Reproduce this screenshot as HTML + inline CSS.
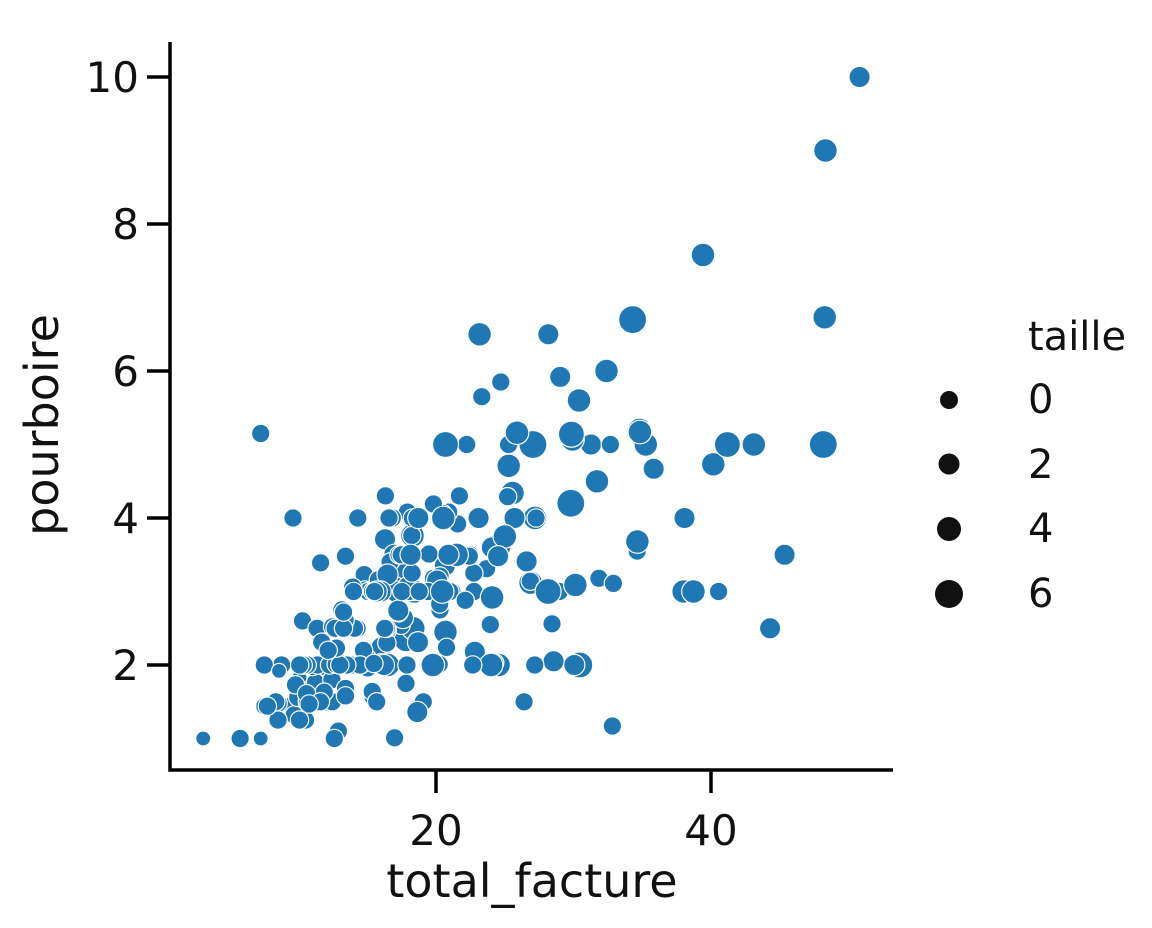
<!DOCTYPE html>
<html><head><meta charset="utf-8"><style>
html,body{margin:0;padding:0;background:#fff;}
svg{display:block;font-family:"DejaVu Sans","Liberation Sans",sans-serif;}
</style></head><body>
<svg id="s" width="1152" height="928" viewBox="0 0 1152 928" xmlns="http://www.w3.org/2000/svg">
<rect width="1152" height="928" fill="#fff"/>
<g id="pts"></g>
<g stroke="#000" stroke-width="3.5" fill="none">
<path d="M170 42 V770 H893"/>
<path d="M147 665 H170 M147 518 H170 M147 371 H170 M147 224 H170 M147 77 H170"/>
<path d="M436 770 V793 M711 770 V793"/>
</g>
<g font-size="42" fill="#111" text-anchor="end">
<text x="139" y="680">2</text>
<text x="139" y="533">4</text>
<text x="139" y="386">6</text>
<text x="139" y="239">8</text>
<text x="139" y="92">10</text>
</g>
<g font-size="42" fill="#111" text-anchor="middle">
<text x="436" y="845">20</text>
<text x="711" y="845">40</text>
<text x="532" y="897" font-size="46">total_facture</text>
<text transform="translate(58,425) rotate(-90)" font-size="46">pourboire</text>
</g>
<g font-size="40" fill="#111">
<text x="1028" y="350">taille</text>
<text x="1028" y="413">0</text>
<text x="1028" y="478">2</text>
<text x="1028" y="542">4</text>
<text x="1028" y="607">6</text>
</g>
<g fill="#111">
<circle cx="949" cy="400" r="9"/>
<circle cx="949" cy="464" r="10.5"/>
<circle cx="949" cy="529" r="12"/>
<circle cx="949" cy="594" r="14"/>
</g>
</svg>
<script>
var d="16.99 1.01 2,10.34 1.66 3,21.01 3.5 3,23.68 3.31 2,24.59 3.61 4,25.29 4.71 4,8.77 2 2,26.88 3.12 4,15.04 1.96 2,14.78 3.23 2,10.27 1.71 2,35.26 5 4,15.42 1.57 2,18.43 3 4,14.83 3.02 2,21.58 3.92 2,10.33 1.67 3,16.29 3.71 3,16.97 3.5 3,20.65 3.35 3,17.92 4.08 2,20.29 2.75 2,15.77 2.23 2,39.42 7.58 4,19.82 3.18 2,17.81 2.34 4,13.37 2 2,12.69 2 2,21.7 4.3 2,19.65 3 2,9.55 1.45 2,18.35 2.5 4,15.06 3 2,20.69 2.45 4,17.78 3.27 2,24.06 3.6 3,16.31 2 3,16.93 3.07 3,18.69 2.31 3,31.27 5 3,16.04 2.24 3,17.46 2.54 2,13.94 3.06 2,9.68 1.32 2,30.4 5.6 4,18.29 3 2,22.23 5 2,32.4 6 4,28.55 2.05 3,18.04 3 2,12.54 2.5 2,10.29 2.6 2,34.81 5.2 4,9.94 1.56 2,25.56 4.34 4,19.49 3.51 2,38.01 3 4,26.41 1.5 2,11.24 1.76 2,48.27 6.73 4,20.29 3.21 2,13.81 2 2,11.02 1.98 2,18.29 3.76 4,17.59 2.64 3,20.08 3.15 3,16.45 2.47 2,3.07 1 1,20.23 2.01 2,15.01 2.09 2,12.02 1.97 2,17.07 3 3,26.86 3.14 2,25.28 5 2,14.73 2.2 2,10.51 1.25 2,17.92 3.08 2,27.2 4 4,22.76 3 2,17.29 2.71 2,19.44 3 2,16.66 3.4 2,10.07 1.83 1,32.68 5 2,15.98 2.03 2,34.83 5.17 4,13.03 2 2,18.28 4 2,24.71 5.85 2,21.16 3 2,28.97 3 2,22.49 3.5 2,5.75 1 2,16.32 4.3 2,22.75 3.25 2,40.17 4.73 4,27.28 4 2,12.03 1.5 2,21.01 3 2,12.46 1.5 2,11.35 2.5 2,15.38 3 2,44.3 2.5 3,22.42 3.48 2,20.92 4.08 2,15.36 1.64 2,20.49 4.06 2,25.21 4.29 2,18.24 3.76 2,14.31 4 2,14 3 2,7.25 1 1,38.07 4 3,23.95 2.55 2,25.71 4 3,17.31 3.5 2,29.93 5.07 4,10.65 1.5 2,12.43 1.8 2,24.08 2.92 4,11.69 2.31 2,13.42 1.68 2,14.26 2.5 2,15.95 2 2,12.48 2.52 2,29.8 4.2 6,8.52 1.48 2,14.52 2 2,11.38 2 2,22.82 2.18 3,19.08 1.5 2,20.27 2.83 2,11.17 1.5 2,12.26 2 2,18.26 3.25 2,8.51 1.25 2,10.33 2 2,14.15 2 2,16 2 2,13.16 2.75 2,17.47 3.5 2,34.3 6.7 6,41.19 5 5,27.05 5 6,16.43 2.3 2,8.35 1.5 2,18.64 1.36 3,11.87 1.63 2,9.78 1.73 2,7.51 2 2,14.07 2.5 2,13.13 2 2,17.26 2.74 3,24.55 2 4,19.77 2 4,29.85 5.14 5,48.17 5 6,25 3.75 4,13.39 2.61 2,16.49 2 4,21.5 3.5 4,12.66 2.5 2,16.21 2 3,13.81 2 2,17.51 3 2,24.52 3.48 3,20.76 2.24 2,31.71 4.5 4,10.59 1.61 2,10.63 2 2,50.81 10 3,15.81 3.16 2,7.25 5.15 2,31.85 3.18 2,16.82 4 2,32.9 3.11 2,17.89 2 2,14.48 2 2,9.6 4 2,34.63 3.55 2,34.65 3.68 4,23.33 5.65 2,45.35 3.5 3,23.17 6.5 4,40.55 3 2,20.69 5 5,20.9 3.5 3,30.46 2 5,18.15 3.5 3,23.1 4 3,15.69 1.5 2,19.81 4.19 2,28.44 2.56 2,15.48 2.02 2,16.58 4 2,7.56 1.44 2,10.34 2 2,43.11 5 4,13 2 2,13.51 2 2,18.71 4 3,12.74 2.01 2,13 2 2,16.4 2.5 2,20.53 4 4,16.47 3.23 3,26.59 3.41 3,38.73 3 4,24.27 2.03 2,12.76 2.23 2,30.06 2 3,25.89 5.16 4,48.33 9 4,13.27 2.5 2,28.17 6.5 3,12.9 1.1 2,28.15 3 5,11.59 1.5 2,7.74 1.44 2,30.14 3.09 4,12.16 2.2 2,13.42 3.48 2,8.58 1.92 1,15.98 3 3,13.42 1.58 2,16.27 2.5 2,10.09 2 2,20.45 3 4,13.28 2.72 2,22.12 2.88 2,24.01 2 4,15.69 3 3,11.61 3.39 2,10.77 1.47 2,15.53 3 2,10.07 1.25 2,12.6 1 2,32.83 1.17 2,35.83 4.67 3,29.03 5.92 3,27.18 2 2,22.67 2 2,17.82 1.75 2,18.78 3 2";
var g=document.getElementById("pts"),h="";
d.split(",").forEach(function(r){var p=r.split(" ").map(Number);
var x=161+13.75*p[0],y=812-73.5*p[1],rr=Math.sqrt(56+28*(p[2]-1));
h+='<circle cx="'+x.toFixed(1)+'" cy="'+y.toFixed(1)+'" r="'+rr.toFixed(1)+'" fill="#1f77b4" stroke="#fff" stroke-width="1.2"/>';});
g.innerHTML=h;
</script>
</body></html>
